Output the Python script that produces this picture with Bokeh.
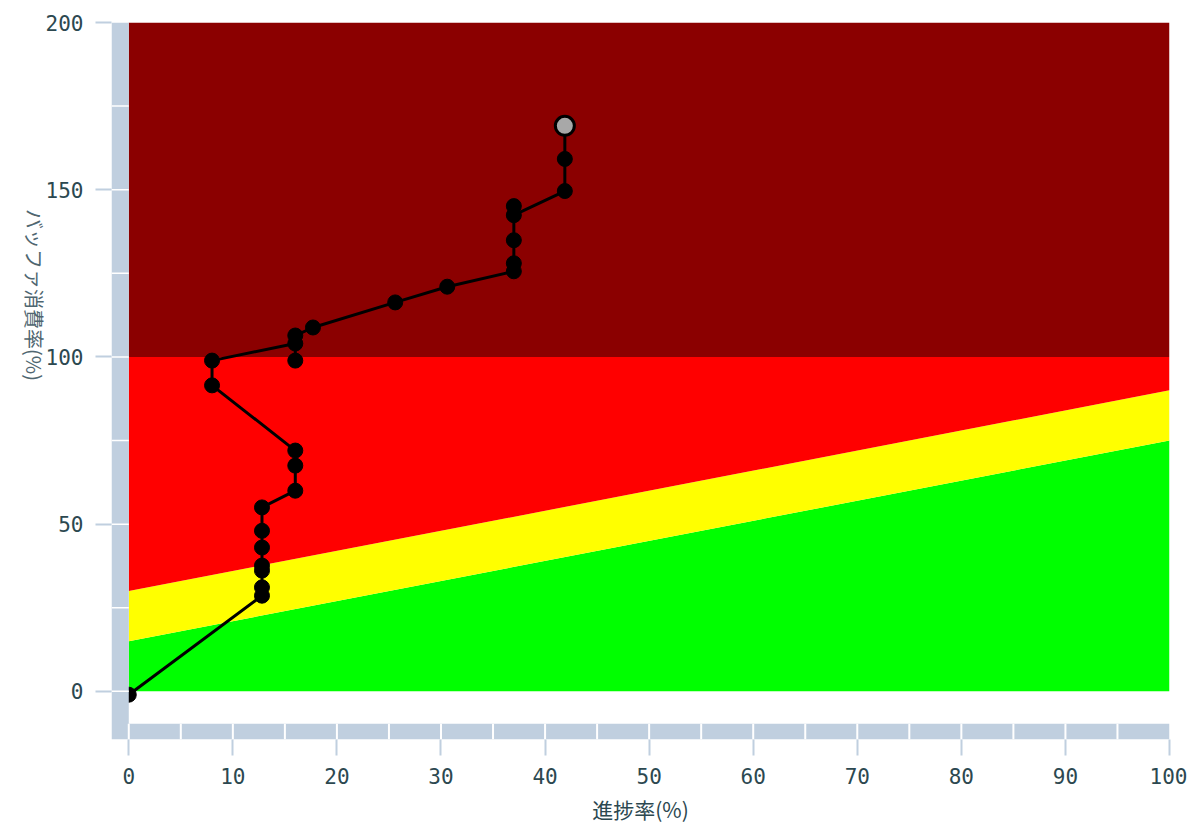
import math
from bokeh.plotting import figure
from bokeh.models import Range1d, FixedTicker
from bokeh.embed import file_html
from bokeh.resources import INLINE

# ---- data ----
progress = [0, 12.8, 12.8, 12.8, 12.8, 12.8, 12.8, 12.8, 16.0, 16.0, 16.0, 8.0, 8.0,
            16.0, 16.0, 16.0, 17.7, 25.6, 30.6, 37.0, 37.0, 37.0, 37.0, 37.0,
            41.9, 41.9, 41.9]
buffer_used = [-1, 28.6, 31.1, 36.1, 37.6, 43.0, 48.0, 55.0, 60.0, 67.5, 72.0, 91.5, 98.9,
               104.0, 98.9, 106.4, 108.8, 116.3, 121.0, 125.6, 128.0, 134.9, 145.1, 142.4,
               149.6, 159.2, 169.1]

zone_x = [0, 100]
zone_floor = [0, 0]
green_top = [15, 75]
yellow_top = [30, 90]
red_top = [100, 100]
darkred_top = [200, 200]

x_ticks = [0, 10, 20, 30, 40, 50, 60, 70, 80, 90, 100]
y_ticks = [0, 50, 100, 150, 200]
x_minor = [0, 5, 10, 15, 20, 25, 30, 35, 40, 45, 50, 55, 60, 65, 70, 75, 80, 85, 90, 95]
y_minor = [0, 25, 50, 75, 100, 125, 150, 175]

x_label = "進捗率(%)"
y_label = "バッファ消費率(%)"

# ---- figure ----
X0, X1 = -1.66, 100
Y0, Y1 = -14.4, 200
BAND_TOP = -9.7
BAND = "#C0CFDF"
TXT = "#2C4850"

p = figure(width=1187, height=826, output_backend="svg", toolbar_location=None,
           x_range=Range1d(X0, X1), y_range=Range1d(Y0, Y1),
           min_border_left=111, min_border_right=18, min_border_top=22,
           min_border_bottom=87)
p.outline_line_color = None
p.xgrid.visible = False
p.ygrid.visible = False
p.background_fill_color = "white"
p.border_fill_color = "white"

# zones
p.varea(x=zone_x, y1=zone_floor, y2=green_top, fill_color="#00FF00")
p.varea(x=zone_x, y1=green_top, y2=yellow_top, fill_color="#FFFF00")
p.varea(x=zone_x, y1=yellow_top, y2=red_top, fill_color="#FF0000")
p.varea(x=zone_x, y1=red_top, y2=darkred_top, fill_color="#8B0000")

# track
p.line(progress, buffer_used, line_color="black", line_width=3)
p.scatter(progress[:-1], buffer_used[:-1], size=15, fill_color="black", line_color="black")
p.scatter(progress[-1:], buffer_used[-1:], size=19, fill_color="#A8A8A8",
          line_color="black", line_width=3)

# axis bands
p.quad(left=[X0], right=[0], bottom=[Y0], top=[Y1], fill_color=BAND, line_color=None)
p.quad(left=[0], right=[X1], bottom=[Y0], top=[BAND_TOP], fill_color=BAND, line_color=None)
p.segment(x0=x_minor, x1=x_minor, y0=[Y0] * len(x_minor), y1=[BAND_TOP] * len(x_minor),
          line_color="white", line_width=2)
p.segment(x0=[X0] * len(y_minor), x1=[0] * len(y_minor), y0=y_minor, y1=y_minor,
          line_color="white", line_width=1.5)

# axes
for ax in (p.xaxis[0], p.yaxis[0]):
    ax.axis_line_color = None
    ax.major_tick_line_color = BAND
    ax.major_tick_line_width = 2
    ax.major_tick_in = 0
    ax.major_tick_out = 16
    ax.minor_tick_line_color = None
    ax.major_label_text_font = "DejaVu Sans Mono"
    ax.major_label_text_font_size = "21px"
    ax.major_label_text_color = TXT
    ax.axis_label_text_font = "Noto Sans CJK JP"
    ax.axis_label_text_font_style = "normal"
p.xaxis.ticker = FixedTicker(ticks=x_ticks)
p.yaxis.ticker = FixedTicker(ticks=y_ticks)
p.xaxis.major_label_standoff = 12
p.yaxis.major_label_standoff = 12

p.xaxis.axis_label = x_label
p.xaxis.axis_label_text_font_size = "21px"
p.xaxis.axis_label_text_color = TXT
p.xaxis.axis_label_standoff = 7

p.yaxis.axis_label = y_label
p.yaxis.axis_label_text_font_size = "20px"
p.yaxis.axis_label_text_color = "#4F6670"
p.yaxis.axis_label_standoff = 8
try:
    p.yaxis[0].axis_label_orientation = -math.pi / 2
except Exception:
    pass

open("out.html", "w").write(file_html(p, INLINE))
